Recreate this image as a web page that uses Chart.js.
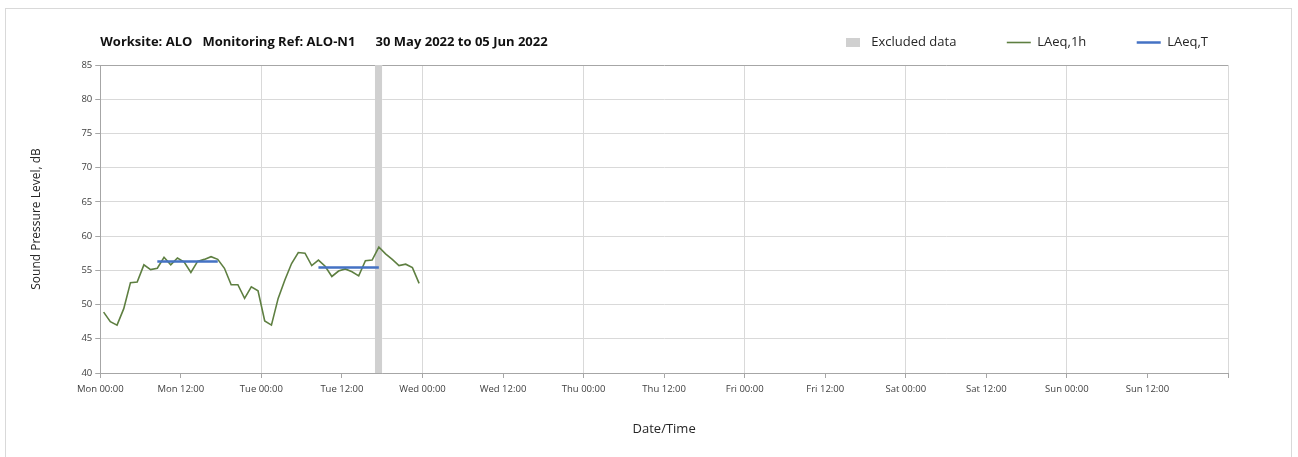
<!DOCTYPE html>
<html lang="en">

<head>
    <meta charset="UTF-8">
    <script src="https://cdn.jsdelivr.net/npm/chart.js"></script>
    <title>Noise monitoring ALO-N1</title>
</head>

<body>
    <div class="frame"></div>
    <div class="chart-wrapper">
        <canvas id="myChart"></canvas>
    </div>
    <style>
        body {
            background-color: #fff;
            margin: 0;
            overflow: hidden;
        }

        .frame {
            position: absolute;
            left: 5px;
            top: 8px;
            width: 1285px;
            height: 470px;
            border: 1px solid #d9d9d9;
        }

        .chart-wrapper {
            position: relative;
            height: 457px;
            width: 1298px;
        }
    </style>
    <script>
        const titleText = "Worksite: ALO   Monitoring Ref: ALO-N1      30 May 2022 to 05 Jun 2022";
        const dayNames = ["Mon", "Tue", "Wed", "Thu", "Fri", "Sat", "Sun"];

        // hours since Mon 00:00
        const hours = [0.5, 1.5, 2.5, 3.5, 4.5, 5.5, 6.5, 7.5, 8.5, 9.5, 10.5, 11.5,
            12.5, 13.5, 14.5, 15.5, 16.5, 17.5, 18.5, 19.5, 20.5, 21.5, 22.5, 23.5,
            24.5, 25.5, 26.5, 27.5, 28.5, 29.5, 30.5, 31.5, 32.5, 33.5, 34.5, 35.5,
            36.5, 37.5, 38.5, 39.5, 40.5, 41.5, 42.5, 43.5, 44.5, 45.5, 46.5, 47.5];
        const laeq1h = [48.9, 47.5, 47.0, 49.4, 53.2, 53.3, 55.8, 55.1, 55.3, 56.9, 55.8, 56.8,
            56.2, 54.7, 56.3, 56.6, 57.0, 56.6, 55.3, 52.9, 52.9, 50.9, 52.6, 52.0,
            47.6, 47.0, 50.9, 53.6, 56.0, 57.6, 57.5, 55.7, 56.5, 55.6, 54.1, 54.9,
            55.2, 54.8, 54.2, 56.4, 56.5, 58.4, 57.4, 56.6, 55.7, 55.9, 55.4, 53.1];

        // LAeq,T periods: start hour, end hour, level
        const laeqTStart = [8.5, 32.5];
        const laeqTEnd = [17.5, 41.5];
        const laeqTLevel = [56.3, 55.4];

        const excludedFrom = 40.9;
        const excludedTo = 42.0;

        const laeqTPoints = [];
        laeqTStart.forEach((s, i) => {
            laeqTPoints.push({ x: s, y: laeqTLevel[i] }, { x: laeqTEnd[i], y: laeqTLevel[i] }, { x: laeqTEnd[i], y: null });
        });

        const tickLabel = (v) => {
            if (v >= 168) return "";
            const day = dayNames[Math.floor(v / 24)];
            return day + (v % 24 === 0 ? " 00:00" : " 12:00");
        };

        // small grey box for the "Excluded data" legend entry
        const greyBox = document.createElement("canvas");
        greyBox.width = 14;
        greyBox.height = 9;
        const gctx = greyBox.getContext("2d");
        gctx.fillStyle = "#d0d0d0";
        gctx.fillRect(0, 0, 14, 9);

        const titlePlugin = {
            id: "sideTitle",
            afterDraw(chart) {
                const c = chart.ctx;
                c.save();
                c.font = "bold 13px 'Open Sans'";
                c.fillStyle = "#111";
                c.textBaseline = "middle";
                c.fillText(titleText, chart.chartArea.left, 42);
                c.restore();
            }
        };

        // a bit more room between legend and plot
        const legendGap = {
            id: "legendGap",
            beforeInit(chart) {
                const fit = chart.legend.fit;
                chart.legend.fit = function () {
                    fit.bind(chart.legend)();
                    this.height += 6;
                };
            }
        };

        Chart.defaults.font.family = "'Open Sans'";
        Chart.defaults.color = "#404040";

        new Chart(document.getElementById("myChart"), {
            type: "line",
            data: {
                datasets: [
                    {
                        label: "Excluded data",
                        data: [{ x: excludedFrom, y: 85 }, { x: excludedTo, y: 85 }],
                        borderWidth: 0,
                        borderColor: "rgba(0,0,0,0)",
                        backgroundColor: "#d0d0d0",
                        fill: "start",
                        pointRadius: 0,
                        pointStyle: greyBox,
                        order: 3
                    },
                    {
                        label: "LAeq,1h",
                        data: hours.map((h, i) => ({ x: h, y: laeq1h[i] })),
                        borderColor: "#5e7f41",
                        backgroundColor: "#5e7f41",
                        borderWidth: 1.6,
                        pointRadius: 0,
                        pointStyle: "line",
                        tension: 0,
                        order: 2
                    },
                    {
                        label: "LAeq,T",
                        data: laeqTPoints,
                        borderColor: "#4472c4",
                        backgroundColor: "#4472c4",
                        borderWidth: 2.5,
                        pointRadius: 0,
                        pointStyle: "line",
                        spanGaps: false,
                        order: 1
                    }
                ]
            },
            options: {
                responsive: true,
                maintainAspectRatio: false,
                animation: false,
                layout: { padding: { left: 25, right: 70, top: 16, bottom: 16 } },
                plugins: {
                    tooltip: { enabled: false },
                    legend: {
                        position: "top",
                        align: "end",
                        labels: {
                            usePointStyle: true,
                            pointStyleWidth: 24,
                            boxHeight: 10,
                            padding: 20,
                            color: "#262626",
                            font: { size: 13 },
                            sort: (a, b) => a.datasetIndex - b.datasetIndex,
                            generateLabels: (chart) => {
                                const items = Chart.defaults.plugins.legend.labels.generateLabels(chart);
                                items.forEach((it) => {
                                    if (it.datasetIndex < 2) it.text = it.text + "         ";
                                });
                                return items;
                            }
                        }
                    }
                },
                scales: {
                    x: {
                        type: "linear",
                        min: 0,
                        max: 168,
                        ticks: {
                            stepSize: 12,
                            callback: tickLabel,
                            maxRotation: 0,
                            autoSkip: false,
                            padding: 6,
                            font: { size: 9.5 },
                            color: "#404040"
                        },
                        grid: {
                            color: (ctx) => (ctx.tick && ctx.tick.value % 24 === 0 ? "#d9d9d9" : "rgba(0,0,0,0)"),
                            tickColor: "#a6a6a6",
                            tickLength: 5
                        },
                        border: { color: "#a6a6a6" },
                        title: {
                            display: true,
                            text: "Date/Time",
                            font: { size: 13 },
                            color: "#262626",
                            padding: { top: 20 }
                        }
                    },
                    y: {
                        min: 40,
                        max: 85,
                        ticks: {
                            stepSize: 5,
                            font: { size: 9.5 },
                            color: "#404040"
                        },
                        grid: {
                            color: (ctx) => (ctx.tick && ctx.tick.value === 85 ? "#a6a6a6" : "#d9d9d9"),
                            tickColor: "#a6a6a6",
                            tickLength: 5
                        },
                        border: { color: "#a6a6a6" },
                        title: {
                            display: true,
                            text: "Sound Pressure Level, dB",
                            font: { size: 12 },
                            color: "#262626",
                            padding: { bottom: 35 }
                        }
                    }
                }
            },
            plugins: [titlePlugin, legendGap]
        });
    </script>
</body>

</html>
